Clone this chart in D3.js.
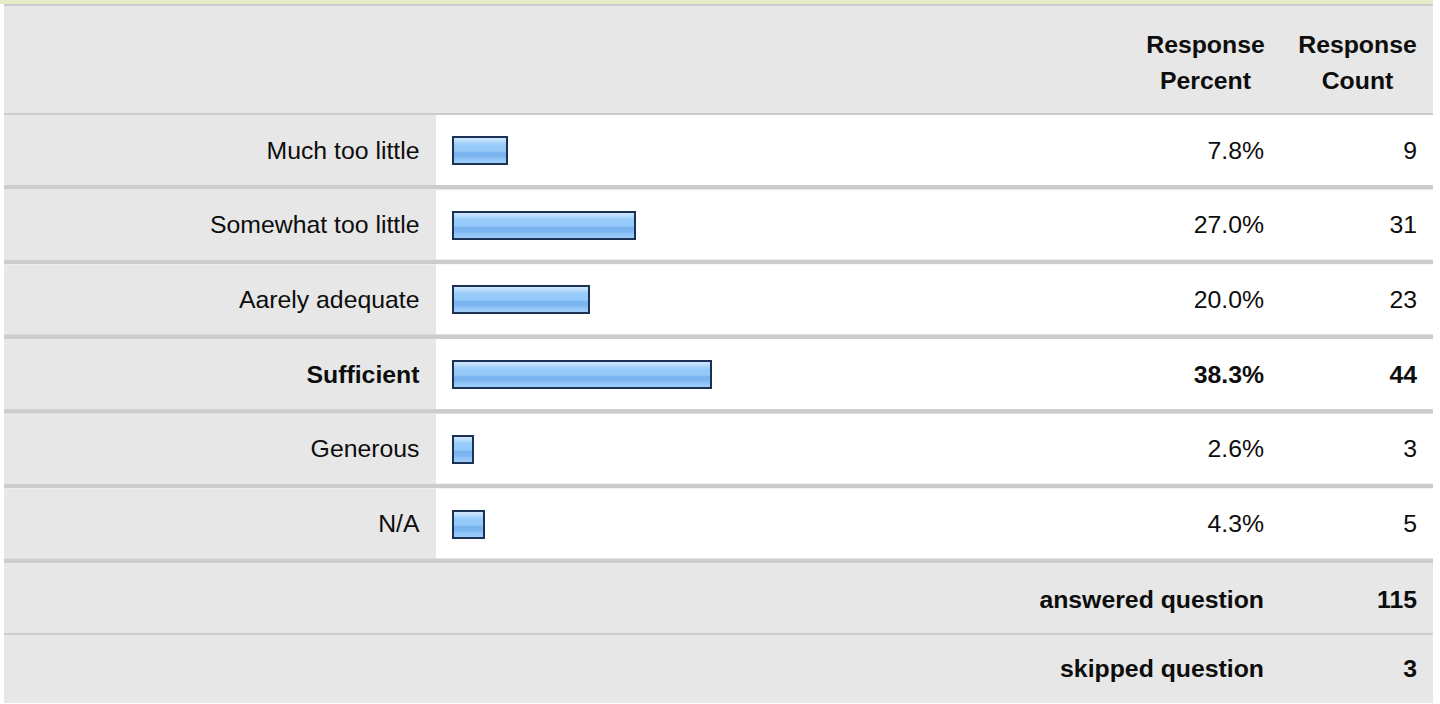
<!DOCTYPE html>
<html>
<head>
<meta charset="utf-8">
<script src="https://cdn.jsdelivr.net/npm/d3@7"></script>
<style>
  html, body { margin: 0; padding: 0; background: #ffffff; }
  svg { display: block; }
  text { font-family: "Liberation Sans", Arial, Helvetica, sans-serif; fill: #0d0d0d; }
</style>
</head>
<body>
<svg id="chart" width="1440" height="704"></svg>
<script>
// ---- data ----
const categories = ["Much too little", "Somewhat too little", "Aarely adequate", "Sufficient", "Generous", "N/A"];
const percents = [7.8, 27.0, 20.0, 38.3, 2.6, 4.3];
const counts = [9, 31, 23, 44, 3, 5];
const headerPercent = ["Response", "Percent"];
const headerCount = ["Response", "Count"];
const summaryLabels = ["answered question", "skipped question"];
const summaryValues = [115, 3];

// ---- layout ----
const svg = d3.select("#chart");
const left = 4, right = 1433;
const labelCellRight = 436;
const fontSize = 24.8;
const rowTop = 115, rowStep = 74.7, sepH = 4.7;
const pctRight = 1264, cntRight = 1417;
const pctCenter = 1205.5, cntCenter = 1357.5;
const barX = 453;

const y = d3.scaleBand().domain(categories).range([rowTop, rowTop + rowStep * categories.length]).paddingInner(0).paddingOuter(0);
const x = d3.scaleLinear().domain([0, 100]).range([0, 667]);
const maxPct = d3.max(percents);

const rows = categories.map((c, i) => ({ cat: c, pct: percents[i], cnt: counts[i], bold: percents[i] === maxPct }));

// gradient
const defs = svg.append("defs");
const grad = defs.append("linearGradient").attr("id", "barGrad").attr("x1", 0).attr("y1", 0).attr("x2", 0).attr("y2", 1);
[[0, "#cfe7fd"], [0.12, "#c3e0fc"], [0.2, "#a9d5fb"], [0.3, "#97cbf9"], [0.52, "#93c8f9"], [0.58, "#79b3ef"], [0.74, "#7db6f1"], [0.8, "#8fc4f7"], [0.92, "#9acbf9"], [1, "#a6d2fa"]]
  .forEach(([o, c]) => grad.append("stop").attr("offset", o).attr("stop-color", c));

// top band
svg.append("rect").attr("x", 0).attr("y", 0).attr("width", right).attr("height", 4).attr("fill", "#e6ebc8");
svg.append("rect").attr("x", left).attr("y", 4).attr("width", right - left).attr("height", 2).attr("fill", "#cccccc");

// header
svg.append("rect").attr("x", left).attr("y", 6).attr("width", right - left).attr("height", 107).attr("fill", "#e7e7e7");
svg.append("rect").attr("x", left).attr("y", 113).attr("width", right - left).attr("height", 2).attr("fill", "#cccccc");

const hdr = svg.append("g").attr("font-weight", "bold").attr("font-size", fontSize).attr("text-anchor", "middle");
[[headerPercent, pctCenter], [headerCount, cntCenter]].forEach(([lines, cx]) => {
  lines.forEach((t, j) => {
    hdr.append("text").attr("x", cx).attr("y", 52.7 + j * 36.6).text(t);
  });
});

// rows
const g = svg.append("g");
const row = g.selectAll("g.row").data(rows).join("g").attr("class", "row");

row.append("rect").attr("x", left).attr("y", d => y(d.cat)).attr("width", right - left).attr("height", rowStep - sepH).attr("fill", "#ffffff");
row.append("rect").attr("x", left).attr("y", d => y(d.cat)).attr("width", labelCellRight - left).attr("height", rowStep - sepH).attr("fill", "#e7e7e7");
row.append("rect").attr("x", left).attr("y", d => y(d.cat) + rowStep - sepH).attr("width", right - left).attr("height", sepH).attr("fill", "#cccccc");

const mid = d => y(d.cat) + (rowStep - sepH) / 2;

row.append("text").attr("x", 419.5).attr("y", d => mid(d)).attr("dy", "0.35em")
  .attr("text-anchor", "end").attr("font-size", fontSize).attr("font-weight", d => d.bold ? "bold" : "normal").text(d => d.cat);

row.append("rect").attr("x", barX).attr("y", d => Math.round(mid(d)) - 13).attr("width", d => Math.round(x(d.pct) + 2.4)).attr("height", 27)
  .attr("fill", "url(#barGrad)").attr("stroke", "#1c3254").attr("stroke-width", 2);

row.append("text").attr("x", pctRight).attr("y", d => mid(d)).attr("dy", "0.35em")
  .attr("text-anchor", "end").attr("font-size", fontSize).attr("font-weight", d => d.bold ? "bold" : "normal").text(d => d.pct.toFixed(1) + "%");

row.append("text").attr("x", cntRight).attr("y", d => mid(d)).attr("dy", "0.35em")
  .attr("text-anchor", "end").attr("font-size", fontSize).attr("font-weight", d => d.bold ? "bold" : "normal").text(d => d.cnt);

// summary rows
const sumTop = rowTop + rowStep * categories.length;
const sumRows = [
  { label: summaryLabels[0], value: summaryValues[0], base: 608.3 },
  { label: summaryLabels[1], value: summaryValues[1], base: 676.7 }
];
svg.append("rect").attr("x", left).attr("y", sumTop).attr("width", right - left).attr("height", 703 - sumTop).attr("fill", "#e7e7e7");
svg.append("rect").attr("x", left).attr("y", 633).attr("width", right - left).attr("height", 2).attr("fill", "#cccccc");
const sg = svg.append("g").attr("font-weight", "bold").attr("font-size", fontSize).attr("text-anchor", "end");
sumRows.forEach(r => {
  sg.append("text").attr("x", pctRight).attr("y", r.base).text(r.label);
  sg.append("text").attr("x", cntRight).attr("y", r.base).text(r.value);
});
</script>
</body>
</html>
